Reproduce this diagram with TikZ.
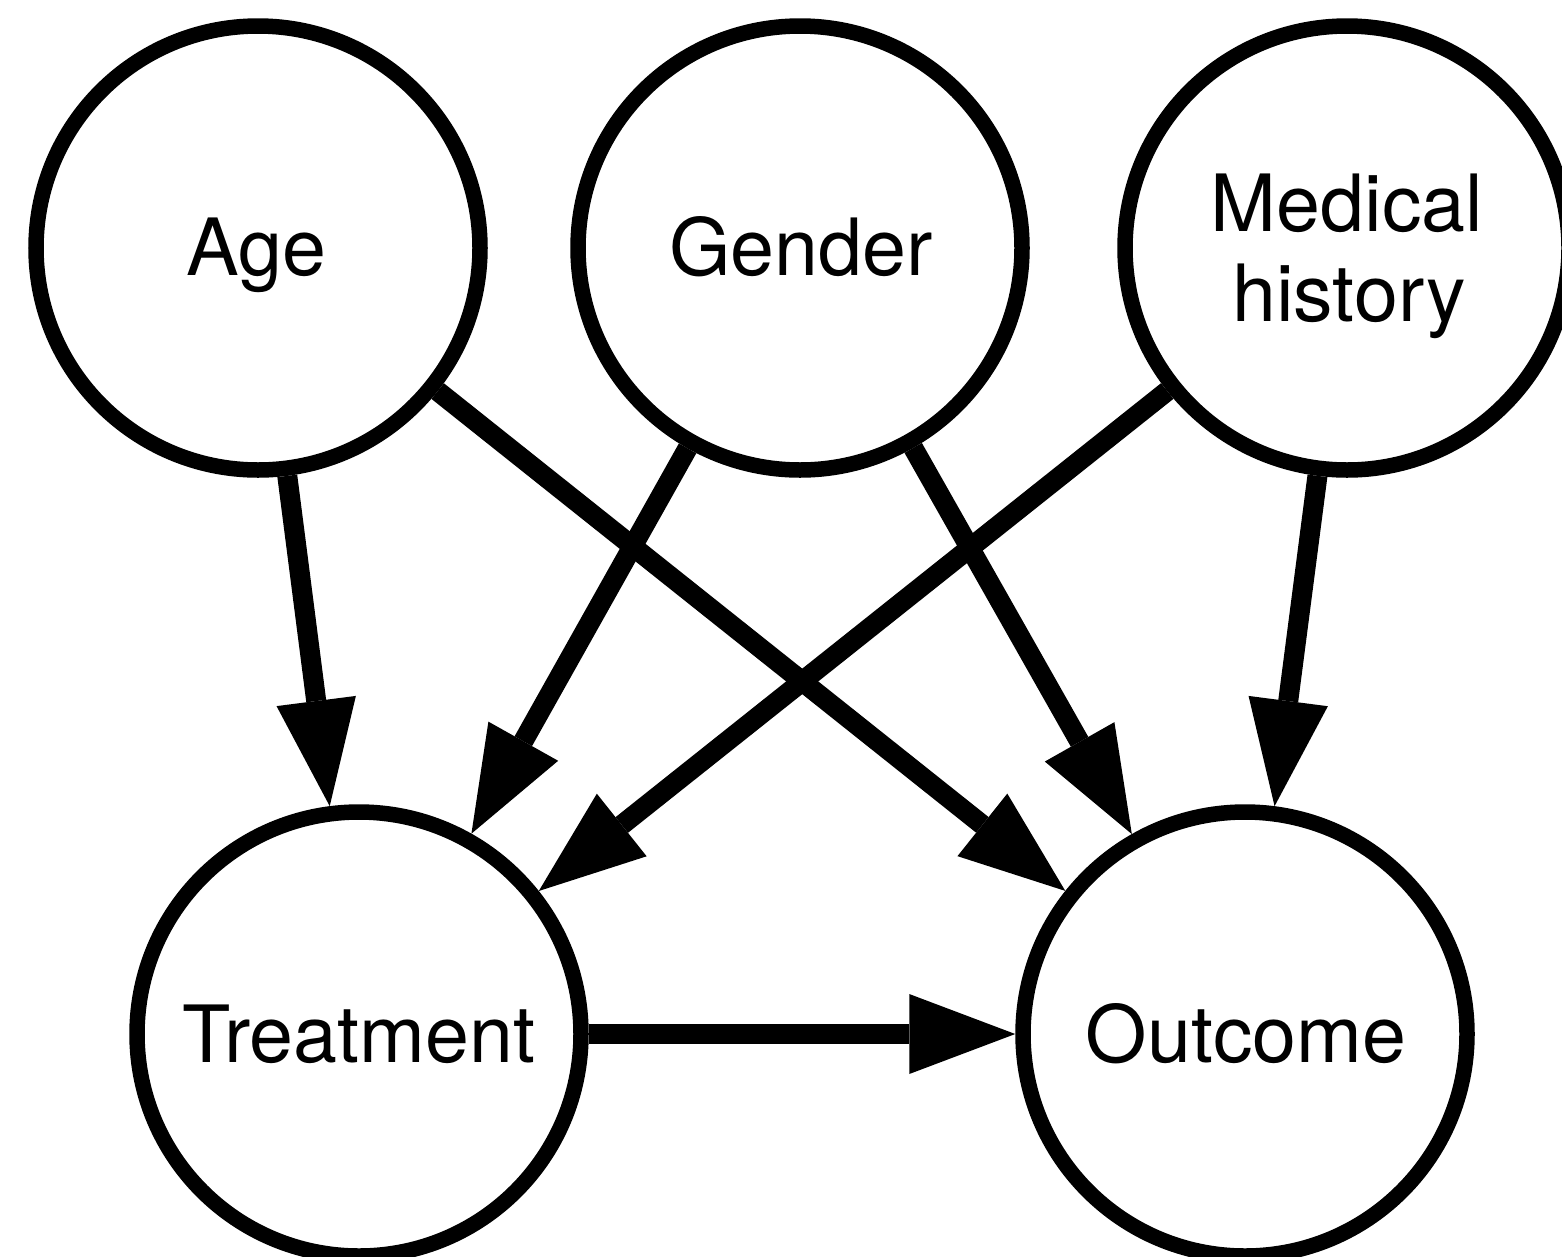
\documentclass[tikz,border=0pt]{standalone}
\usepackage{fontspec}
\setmainfont{TeX Gyre Heros}
\usetikzlibrary{arrows.meta}
\begin{document}
\begin{tikzpicture}[x=1pt,y=-1pt,
  var/.style={circle,draw=black,line width=15.5pt,minimum size=444pt,inner sep=0pt,fill=white},
  lbl/.style={anchor=base,inner sep=0pt,font=\fontsize{79}{90}\selectfont},
  edge/.style={line width=20pt,-{Triangle[length=106pt,width=80pt,line width=0pt]}}]
  \useasboundingbox (0,0) rectangle (1562,1256);
  \clip (0,0) rectangle (1562,1256);
  % variables
  \node[var] (age) at (258,248) {};
  \node[var] (gen) at (800,248) {};
  \node[var] (med) at (1347,248) {};
  \node[var] (trt) at (359,1034) {};
  \node[var] (out) at (1245,1034) {};
  % labels
  \node[lbl] (ageL) at (256,275) {Age};
  \node[lbl] (genL) at (801,275) {Gender};
  \node[lbl] (medL) at (1347,231) {Medical};
  \node[lbl] (hisL) at (1349,321) {history};
  \node[lbl] (trtL) at (359,1062) {Treatment};
  \node[lbl] (outL) at (1246,1062) {Outcome};
  % causal edges
  \draw[edge] (age) -- (trt);
  \draw[edge] (age) -- (out);
  \draw[edge] (gen) -- (trt);
  \draw[edge] (gen) -- (out);
  \draw[edge] (med) -- (trt);
  \draw[edge] (med) -- (out);
  \draw[edge] (trt) -- (out);
\end{tikzpicture}
\end{document}
